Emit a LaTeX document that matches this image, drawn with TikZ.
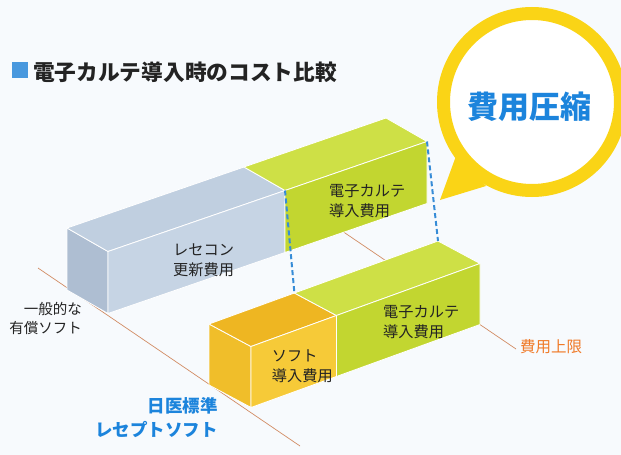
\documentclass[tikz,border=0pt]{standalone}
\usepackage{fontspec}
\newfontfamily\jp{Noto Sans CJK JP}
\definecolor{bgc}{RGB}{247,250,253}
\definecolor{graytop}{RGB}{192,207,224}
\definecolor{grayfront}{RGB}{198,212,228}
\definecolor{grayside}{RGB}{174,190,210}
\definecolor{greentop}{RGB}{206,224,70}
\definecolor{greenfront}{RGB}{194,214,48}
\definecolor{yeltop}{RGB}{238,182,34}
\definecolor{yelfront}{RGB}{246,202,56}
\definecolor{yelside}{RGB}{240,190,42}
\definecolor{floorc}{RGB}{210,140,100}
\definecolor{dashc}{RGB}{55,140,215}
\definecolor{ringc}{RGB}{250,212,22}
\definecolor{bluetxt}{RGB}{28,132,220}
\definecolor{txtc}{RGB}{35,35,35}
\definecolor{orangetxt}{RGB}{240,122,40}
\definecolor{sqblue}{RGB}{72,152,222}
\tikzset{
  face/.style={draw=white, line width=0.8pt, line join=round},
  floorline/.style={draw=floorc, line width=0.7pt},
  dashline/.style={draw=dashc, line width=2pt, dash pattern=on 5pt off 3pt},
  boxlbl/.style={font=\jp\fontsize{15.2}{20}\selectfont, text=txtc, align=left, anchor=west, inner sep=0pt},
  sidelbl/.style={font=\jp\fontsize{14.5}{18.5}\selectfont, text=txtc, align=right, anchor=east, inner sep=0pt},
  bluelbl/.style={font=\jp\bfseries\fontsize{17.5}{24}\selectfont, text=bluetxt, align=right, anchor=east, inner sep=0pt},
}
\begin{document}
\begin{tikzpicture}[x=1pt,y=-1pt]
\clip (0,0) rectangle (621,455);
\fill[bgc] (0,0) rectangle (621,455);

% coordinates
\coordinate (UBL) at (67,228);
\coordinate (UFL) at (108,251.5);
\coordinate (UJB) at (244,167);
\coordinate (UJF) at (285,190.5);
\coordinate (UBR) at (386,118);
\coordinate (UFR) at (427,141.5);
\coordinate (UBLb) at (67,290);
\coordinate (UFLb) at (108,313.5);
\coordinate (UJFb) at (285,252.5);
\coordinate (UFRb) at (427,203.5);

\coordinate (LBL) at (209,324);
\coordinate (LFL) at (251,346.5);
\coordinate (LJB) at (294.4,293);
\coordinate (LJF) at (336.4,315.5);
\coordinate (LBR) at (438,241);
\coordinate (LFR) at (480,263.5);
\coordinate (LBLb) at (209,385);
\coordinate (LFLb) at (251,407.5);
\coordinate (LJFb) at (336.4,376.5);
\coordinate (LFRb) at (480,324.5);

\coordinate (FA) at (38,268);
\coordinate (FB) at (300,446);
\coordinate (FC) at (340,229.6);
\coordinate (FD) at (516,349);

% floor lines
\draw[floorline] (FA) -- (FB);
\draw[floorline] (FC) -- (FD);

% upper box
\filldraw[face, fill=grayside] (UBL) -- (UFL) -- (UFLb) -- (UBLb) -- cycle;
\filldraw[face, fill=graytop] (UBL) -- (UJB) -- (UJF) -- (UFL) -- cycle;
\filldraw[face, fill=grayfront] (UFL) -- (UJF) -- (UJFb) -- (UFLb) -- cycle;
\filldraw[face, fill=greentop] (UJB) -- (UBR) -- (UFR) -- (UJF) -- cycle;
\filldraw[face, fill=greenfront] (UJF) -- (UFR) -- (UFRb) -- (UJFb) -- cycle;

% lower box
\filldraw[face, fill=yelside] (LBL) -- (LFL) -- (LFLb) -- (LBLb) -- cycle;
\filldraw[face, fill=yeltop] (LBL) -- (LJB) -- (LJF) -- (LFL) -- cycle;
\filldraw[face, fill=yelfront] (LFL) -- (LJF) -- (LJFb) -- (LFLb) -- cycle;
\filldraw[face, fill=greentop] (LJB) -- (LBR) -- (LFR) -- (LJF) -- cycle;
\filldraw[face, fill=greenfront] (LJF) -- (LFR) -- (LFRb) -- (LJFb) -- cycle;

% dashed guides
\draw[dashline] (UJF) -- (LJB);
\draw[dashline] (UFR) -- (LBR);

% speech bubble
\fill[ringc] (456,156) -- (440,200) -- (486,186) -- cycle;
\draw[ringc, line width=13pt, fill=white] (532,102) circle (88.5);
\node[font=\jp\bfseries\fontsize{31}{36}\selectfont, text=bluetxt, inner sep=0pt] (cut) at (529,107) {費用圧縮};

% title
\fill[sqblue] (11.7,61.7) rectangle (28.3,78.3);
\node[font=\jp\bfseries\fontsize{21.7}{26}\selectfont, text=txtc, anchor=west, inner sep=0pt] (title) at (33,72) {電子カルテ導入時のコスト比較};

% labels
\node[boxlbl] (reseco) at (173,260) {レセコン\\更新費用};
\node[boxlbl] (ekarte1) at (329,200.7) {電子カルテ\\導入費用};
\node[boxlbl] (ekarte2) at (383,321.7) {電子カルテ\\導入費用};
\node[boxlbl] (soft) at (271.7,366.7) {ソフト\\導入費用};
\node[sidelbl] (general) at (82,318.7) {一般的な\\有償ソフト};
\node[bluelbl] (nichii) at (218,418) {日医標準\\レセプトソフト};
\node[font=\jp\fontsize{15.5}{18}\selectfont, text=orangetxt, anchor=west, inner sep=0pt] (limit) at (520,347) {費用上限};
\end{tikzpicture}
\end{document}
